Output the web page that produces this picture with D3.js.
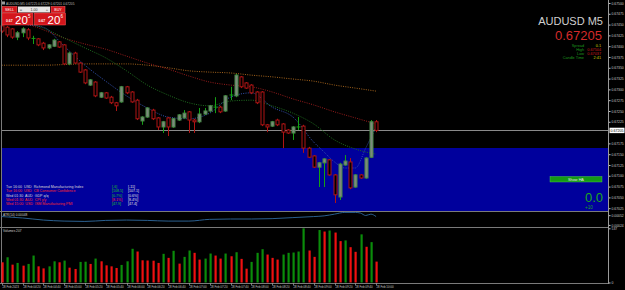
<!DOCTYPE html>
<html><head><meta charset="utf-8">
<script src="https://cdn.jsdelivr.net/npm/d3@7"></script>
<style>
html,body{margin:0;padding:0;background:#000;overflow:hidden}
svg{display:block;font-family:"Liberation Sans",Arial,sans-serif}
</style>
</head><body>
<svg id="c" width="625" height="290"></svg>
<script>
// ---------- DATA ----------
const symbol = "AUDUSD";
const timeframe = "M5";
const open = [0.67447,0.67444,0.67440,0.67421,0.67431,0.67438,0.67418,0.67417,0.67407,0.67396,0.67400,0.67410,0.67403,0.67359,0.67384,0.67361,0.67345,0.67310,0.67317,0.67282,0.67292,0.67282,0.67269,0.67271,0.67306,0.67294,0.67275,0.67227,0.67236,0.67252,0.67234,0.67213,0.67234,0.67213,0.67229,0.67234,0.67248,0.67229,0.67225,0.67243,0.67250,0.67259,0.67259,0.67250,0.67287,0.67285,0.67329,0.67315,0.67310,0.67294,0.67294,0.67218,0.67215,0.67229,0.67220,0.67206,0.67199,0.67213,0.67215,0.67164,0.67146,0.67120,0.67130,0.67137,0.67102,0.67051,0.67125,0.67132,0.67074,0.67102,0.67095,0.67143,0.67225];
const high = [0.67451,0.67447,0.67442,0.67435,0.67444,0.67442,0.67424,0.67419,0.67410,0.67405,0.67417,0.67412,0.67405,0.67387,0.67387,0.67363,0.67347,0.67324,0.67319,0.67294,0.67294,0.67285,0.67271,0.67308,0.67308,0.67296,0.67278,0.67238,0.67259,0.67255,0.67236,0.67227,0.67236,0.67234,0.67243,0.67252,0.67250,0.67232,0.67257,0.67257,0.67264,0.67282,0.67262,0.67287,0.67306,0.67336,0.67331,0.67317,0.67312,0.67296,0.67296,0.67220,0.67227,0.67232,0.67222,0.67208,0.67215,0.67236,0.67218,0.67167,0.67148,0.67132,0.67141,0.67139,0.67104,0.67130,0.67148,0.67141,0.67104,0.67104,0.67143,0.67229,0.67229];
const low = [0.67431,0.67421,0.67417,0.67414,0.67421,0.67414,0.67405,0.67400,0.67391,0.67393,0.67398,0.67396,0.67356,0.67356,0.67359,0.67338,0.67312,0.67308,0.67282,0.67280,0.67278,0.67266,0.67250,0.67269,0.67289,0.67269,0.67229,0.67218,0.67234,0.67229,0.67206,0.67199,0.67192,0.67211,0.67227,0.67232,0.67199,0.67199,0.67222,0.67241,0.67248,0.67245,0.67245,0.67248,0.67275,0.67282,0.67303,0.67301,0.67289,0.67266,0.67215,0.67201,0.67213,0.67215,0.67164,0.67197,0.67183,0.67206,0.67153,0.67141,0.67118,0.67074,0.67074,0.67100,0.67037,0.67044,0.67123,0.67069,0.67072,0.67093,0.67093,0.67141,0.67201];
const close = [0.67435,0.67426,0.67421,0.67431,0.67440,0.67419,0.67418,0.67403,0.67396,0.67403,0.67414,0.67398,0.67359,0.67384,0.67361,0.67340,0.67315,0.67322,0.67285,0.67292,0.67280,0.67269,0.67262,0.67306,0.67292,0.67271,0.67232,0.67236,0.67257,0.67232,0.67213,0.67225,0.67213,0.67232,0.67241,0.67245,0.67229,0.67225,0.67243,0.67250,0.67262,0.67259,0.67248,0.67285,0.67287,0.67333,0.67306,0.67303,0.67292,0.67269,0.67218,0.67213,0.67225,0.67218,0.67201,0.67199,0.67213,0.67213,0.67164,0.67143,0.67120,0.67130,0.67139,0.67102,0.67056,0.67127,0.67134,0.67072,0.67102,0.67095,0.67141,0.67225,0.67205];
const volume = [200,250,177,194,167,184,267,160,140,160,210,200,217,147,134,204,206,184,237,210,170,160,144,174,210,334,307,220,218,216,194,284,244,314,187,254,317,294,227,237,287,267,237,287,260,300,234,137,204,294,330,277,244,227,277,294,297,307,537,317,254,520,505,515,495,410,417,350,304,477,354,400,207];

const maBlueIdx = [5,8,12,16,20,24,28,32,36,40,44,48,52,56,60,62,64,66,68,70,72];
const maBlue = [0.67449,0.67444,0.67400,0.67356,0.67319,0.67285,0.67257,0.67236,0.67232,0.67245,0.67282,0.67292,0.67259,0.67236,0.67178,0.67155,0.67132,0.67118,0.67118,0.67164,0.67213];
const maGreenIdx = [4,8,12,16,20,24,28,32,36,40,44,48,52,56,60,64,68,72];
const maGreen = [0.67456,0.67442,0.67419,0.67396,0.67373,0.67343,0.67310,0.67287,0.67269,0.67262,0.67273,0.67275,0.67262,0.67245,0.67220,0.67183,0.67162,0.67150];
const maRedIdx = [6,8,12,16,20,24,28,32,36,40,44,48,52,56,60,64,68,72];
const maRed = [0.67447,0.67438,0.67419,0.67405,0.67393,0.67377,0.67361,0.67347,0.67331,0.67317,0.67310,0.67306,0.67294,0.67278,0.67264,0.67248,0.67234,0.67220];
const maOrangeIdx = [0,8,16,24,28,32,36,40,44,48,52,56,60,64,68,72];
const maOrange = [0.67356,0.67356,0.67359,0.67359,0.67356,0.67350,0.67343,0.67340,0.67338,0.67333,0.67329,0.67324,0.67319,0.67310,0.67303,0.67296];

const atrIdx = [0,4,8,12,16,20,24,28,32,36,40,44,48,52,56,60,62,64,66,68,69,70,71,72];
const atr = [0.00048,0.00044,0.00038,0.00035,0.00034,0.00037,0.00038,0.00037,0.00035,0.00035,0.00040,0.00041,0.00041,0.00042,0.00045,0.00048,0.00050,0.00055,0.00060,0.00060,0.00058,0.00051,0.00055,0.00048];

const priceTicks = [0.67500,0.67475,0.67450,0.67425,0.67400,0.67375,0.67350,0.67325,0.67300,0.67275,0.67250,0.67225,0.67200,0.67175,0.67150,0.67125,0.67100,0.67075,0.67050,0.67025];
const atrTicks = [0.00052,0.00024];
const volTicks = [537,0];
const timeTickIdx = [0,4,8,12,16,20,24,28,32,36,40,44,48,52,56,60,64,68,72];
const timeLabels = ["28 Feb 2023","28 Feb 04:20","28 Feb 04:40","28 Feb 05:00","28 Feb 05:20","28 Feb 05:40","28 Feb 06:00","28 Feb 06:20","28 Feb 06:40","28 Feb 07:00","28 Feb 07:20","28 Feb 07:40","28 Feb 08:00","28 Feb 08:20","28 Feb 08:40","28 Feb 09:00","28 Feb 09:20","28 Feb 09:40","28 Feb 10:00"];

const newsEvents = ["Tue 16:00  USD  Richmond Manufacturing Index","Tue 16:00  USD  CB Consumer Confidence","Wed 01:30  AUD  GDP q/q","Wed 01:30  AUD  CPI y/y","Wed 15:00  USD  ISM Manufacturing PMI"];
const newsForecast = ["[-6]","[108.5]","[0.7%]","[8.1%]","[47.9]"];
const newsPrevious = ["[-11]","[107.1]","[0.6%]","[8.4%]","[47.4]"];
const newsRowRed = [false,true,false,true,true];
const newsForecastRed = [false,false,false,true,false];

const bidPrice = 0.67205, askPrice = 0.67206;
const spreadText = "0.1", dayHigh = "0.67504", dayLow = "0.67037", candleTime = "2:41";
const haValue = "0.0", haSub = "+10";

// ---------- SETUP ----------
const svg = d3.select("#c");
const n = close.length;
const idx = d3.range(n);
const x = d3.scalePoint().domain(idx).range([1.7, 376.1]);
const y = d3.scaleLinear().domain([0.670185, 0.675069]).range([211, 0]);
const yAtr = d3.scaleLinear().domain([0.00018, 0.00064]).range([227, 211]);
const yVol = d3.scaleLinear().domain([0, 540]).range([282.5, 228]);
const AX = 608.5;
const axisCol = "#c8c8c8";

svg.append("rect").attr("width",625).attr("height",290).attr("fill","#000");

// news panel background
svg.append("rect").attr("x",2).attr("y",148).attr("width",AX-2).attr("height",63.5).attr("fill","#00009c");

// bid line
svg.append("line").attr("x1",2).attr("x2",AX).attr("y1",Math.round(y(bidPrice))+0.5).attr("y2",Math.round(y(bidPrice))+0.5)
  .attr("stroke","#8a8a8a").attr("stroke-width",1);

// moving averages
const maDefs = [
  {i:maOrangeIdx, v:maOrange, c:"#a5641c"},
  {i:maRedIdx, v:maRed, c:"#9a1c1c"},
  {i:maGreenIdx, v:maGreen, c:"#1f6e1f"},
  {i:maBlueIdx, v:maBlue, c:"#3352b0"}
];
const maLine = d3.line().x(d=>x(d[0])).y(d=>y(d[1])).curve(d3.curveMonotoneX);
maDefs.forEach(m=>{
  svg.append("path").attr("d", maLine(m.i.map((k,j)=>[k,m.v[j]])))
    .attr("fill","none").attr("stroke",m.c).attr("stroke-width",1).attr("stroke-dasharray","1,1.3");
});

// candles
const cg = svg.append("g");
idx.forEach(i=>{
  const cx = Math.round(x(i)) + 0.5;
  const bull = close[i] >= open[i];
  const wickCol = bull ? "#14a014" : "#b01414";
  cg.append("line").attr("x1",cx).attr("x2",cx).attr("y1",y(high[i])).attr("y2",y(low[i]))
    .attr("stroke",wickCol).attr("stroke-width",1);
  const top = y(Math.max(open[i],close[i])), bot = y(Math.min(open[i],close[i]));
  if (open[i] === close[i]) {
    cg.append("line").attr("x1",cx-2).attr("x2",cx+2).attr("y1",top).attr("y2",top)
      .attr("stroke","#14a014").attr("stroke-width",1);
  } else {
    cg.append("rect").attr("x",cx-1.5).attr("y",top).attr("width",3).attr("height",Math.max(1,bot-top))
      .attr("fill", bull ? "#7d887d" : "#000")
      .attr("stroke", bull ? "#4a8a4a" : "#b01414").attr("stroke-width",1);
  }
});

// ---------- trade panel (top-left) ----------
svg.append("text").attr("x",6).attr("y",5).attr("font-size",3.2).attr("fill","#bdbdbd")
  .text(`${symbol},${timeframe}  ${d3.format(".5f")(open[n-1])} ${d3.format(".5f")(high[n-1])} ${d3.format(".5f")(low[n-1])} ${d3.format(".5f")(close[n-1])}`);
svg.append("rect").attr("x",2).attr("y",1.5).attr("width",3).attr("height",3).attr("fill","#9a9a9a");

const red = "#d3161c";
svg.append("rect").attr("x",2).attr("y",6.5).attr("width",15).attr("height",6).attr("fill",red).attr("stroke","#ff6a6a").attr("stroke-width",0.5);
svg.append("text").attr("x",9.5).attr("y",11).attr("text-anchor","middle").attr("font-size",3.6).attr("fill","#fff").text("SELL");
svg.append("rect").attr("x",18).attr("y",6.5).attr("width",32).attr("height",6).attr("fill","#e6e6e6");
svg.append("text").attr("x",21).attr("y",11).attr("text-anchor","middle").attr("font-size",4).attr("fill","#444").text("=");
svg.append("text").attr("x",34).attr("y",11).attr("text-anchor","middle").attr("font-size",3.6).attr("fill","#333").text("1.00");
svg.append("text").attr("x",47).attr("y",11).attr("text-anchor","middle").attr("font-size",4).attr("fill","#444").text("+");
svg.append("rect").attr("x",51).attr("y",6.5).attr("width",14).attr("height",6).attr("fill",red).attr("stroke","#ff6a6a").attr("stroke-width",0.5);
svg.append("text").attr("x",58).attr("y",11).attr("text-anchor","middle").attr("font-size",3.6).attr("fill","#fff").text("BUY");

[[2,bidPrice],[34.5,askPrice]].forEach(([bx,p])=>{
  const s = d3.format(".5f")(p);
  svg.append("rect").attr("x",bx).attr("y",13).attr("width",31).attr("height",12).attr("fill",red).attr("stroke","#ff5a5a").attr("stroke-width",0.5);
  svg.append("text").attr("x",bx+4).attr("y",22).attr("font-size",3.4).attr("font-weight","bold").attr("fill","#fff").text(s.slice(0,4));
  svg.append("text").attr("x",bx+13).attr("y",23.5).attr("font-size",11.5).attr("fill","#fff").text(s.slice(4,6));
  svg.append("text").attr("x",bx+26).attr("y",17.5).attr("font-size",4.5).attr("fill","#fff").text(s.slice(6));
});

// ---------- info (top-right) ----------
svg.append("text").attr("x",603).attr("y",25).attr("text-anchor","end").attr("font-size",11).attr("fill","#cfcfcf").text(`${symbol} ${timeframe}`);
svg.append("text").attr("x",602).attr("y",39.8).attr("text-anchor","end").attr("font-size",13).attr("fill","#d42a2a").text(d3.format(".5f")(bidPrice));
const info = [["Spread",spreadText,"#d6d600"],["High",dayHigh,"#c81e1e"],["Low",dayLow,"#c81e1e"],["Candle Time",candleTime,"#d6d600"]];
info.forEach((r,j)=>{
  const yy = 46.6 + j*4.1;
  svg.append("text").attr("x",584).attr("y",yy).attr("text-anchor","end").attr("font-size",3.8).attr("fill","#1e9a1e").text(r[0]);
  svg.append("text").attr("x",601).attr("y",yy).attr("text-anchor","end").attr("font-size",3.8).attr("fill",r[2]).text(r[1]);
});

// ---------- news ----------
newsEvents.forEach((t,j)=>{
  const yy = 188.3 + j*4.1;
  svg.append("text").attr("x",6).attr("y",yy).attr("font-size",3.6).attr("fill",newsRowRed[j]?"#ff2a2a":"#d8d8d8").attr("xml:space","preserve").text(t);
  svg.append("text").attr("x",112).attr("y",yy).attr("font-size",3.6).attr("fill",newsForecastRed[j]?"#ff2a2a":"#22c022").text(newsForecast[j]);
  svg.append("text").attr("x",128).attr("y",yy).attr("font-size",3.6).attr("fill","#e0e0e0").text(newsPrevious[j]);
});

// Show HA button and value
svg.append("rect").attr("x",550).attr("y",176.5).attr("width",52).attr("height",5.5).attr("fill","#149a14").attr("stroke","#5bd35b").attr("stroke-width",0.4);
svg.append("text").attr("x",576).attr("y",180.8).attr("text-anchor","middle").attr("font-size",3.8).attr("fill","#e8e8e8").text("Show HA");
svg.append("text").attr("x",603).attr("y",202).attr("text-anchor","end").attr("font-size",13).attr("fill","#1ea51e").text(haValue);
svg.append("text").attr("x",585).attr("y",208.5).attr("font-size",4.5).attr("fill","#1ea51e").text(haSub);

// ---------- separators / frame ----------
const sep = (yy)=>svg.append("line").attr("x1",0).attr("x2",AX).attr("y1",yy).attr("y2",yy).attr("stroke","#7a7a7a").attr("stroke-width",1);
sep(211.5); sep(227.5); sep(283.5);
svg.append("line").attr("x1",1.5).attr("x2",1.5).attr("y1",0).attr("y2",283.5).attr("stroke","#7a7a7a");

// ---------- ATR window ----------
const atrLine = d3.line().x(d=>x(d[0])).y(d=>yAtr(d[1])).curve(d3.curveMonotoneX);
svg.append("path").attr("d",atrLine(atrIdx.map((k,j)=>[k,atr[j]]))).attr("fill","none").attr("stroke","#2a5f8f").attr("stroke-width",1);
svg.append("text").attr("x",3).attr("y",215.5).attr("font-size",3.2).attr("fill","#cfcfcf").text(`ATR(14) ${d3.format(".5f")(atr[atr.length-1])}`);

// ---------- Volume window ----------
svg.append("g").selectAll("rect").data(idx).join("rect")
  .attr("x",i=>Math.round(x(i))-0.5).attr("width",2.2)
  .attr("y",i=>yVol(volume[i])).attr("height",i=>yVol(0)-yVol(volume[i]))
  .attr("fill",i=>(i>0 && volume[i]>volume[i-1])?"#0a8c0a":"#f01010");
svg.append("text").attr("x",3).attr("y",231.5).attr("font-size",3.2).attr("fill","#cfcfcf").text(`Volumes ${volume[n-1]}`);

// ---------- axes ----------
const axG = svg.append("g").attr("transform",`translate(${AX},0)`);
axG.call(d3.axisRight(y).tickValues(priceTicks.filter(p=>Math.abs(y(p)-y(bidPrice))>4)).tickSize(2).tickFormat(d3.format(".5f")));
const atrG = svg.append("g").attr("transform",`translate(${AX},0)`);
atrG.call(d3.axisRight(yAtr).tickValues(atrTicks).tickSize(2).tickFormat(d3.format(".5f")));
const volG = svg.append("g").attr("transform",`translate(${AX},0)`);
volG.call(d3.axisRight(yVol).tickValues(volTicks).tickSize(2).tickFormat(d3.format("d")));
[axG,atrG,volG].forEach(g=>{
  g.select(".domain").remove();
  g.selectAll("line").attr("stroke",axisCol);
  g.selectAll("text").attr("font-size",3.4).attr("fill",axisCol).attr("x",3).attr("font-family","Liberation Sans, Arial, sans-serif");
});
svg.append("line").attr("x1",AX).attr("x2",AX).attr("y1",0).attr("y2",284).attr("stroke","#9a9a9a");

// current price label
const by = y(bidPrice);
svg.append("rect").attr("x",AX+1).attr("y",by-2.7).attr("width",15).attr("height",5.4).attr("fill","#fff");
svg.append("text").attr("x",AX+2).attr("y",by+1.3).attr("font-size",3.6).attr("fill","#000").text(d3.format(".5f")(bidPrice));

// time axis
const tg = svg.append("g");
timeTickIdx.forEach((k,j)=>{
  const tx = Math.round(x(k))+0.5;
  tg.append("line").attr("x1",tx).attr("x2",tx).attr("y1",283.5).attr("y2",285.5).attr("stroke",axisCol).attr("stroke-width",0.6);
  tg.append("text").attr("x",tx).attr("y",288.3).attr("font-size",2.9).attr("fill",axisCol).text(timeLabels[j]);
});
</script>
</body></html>
